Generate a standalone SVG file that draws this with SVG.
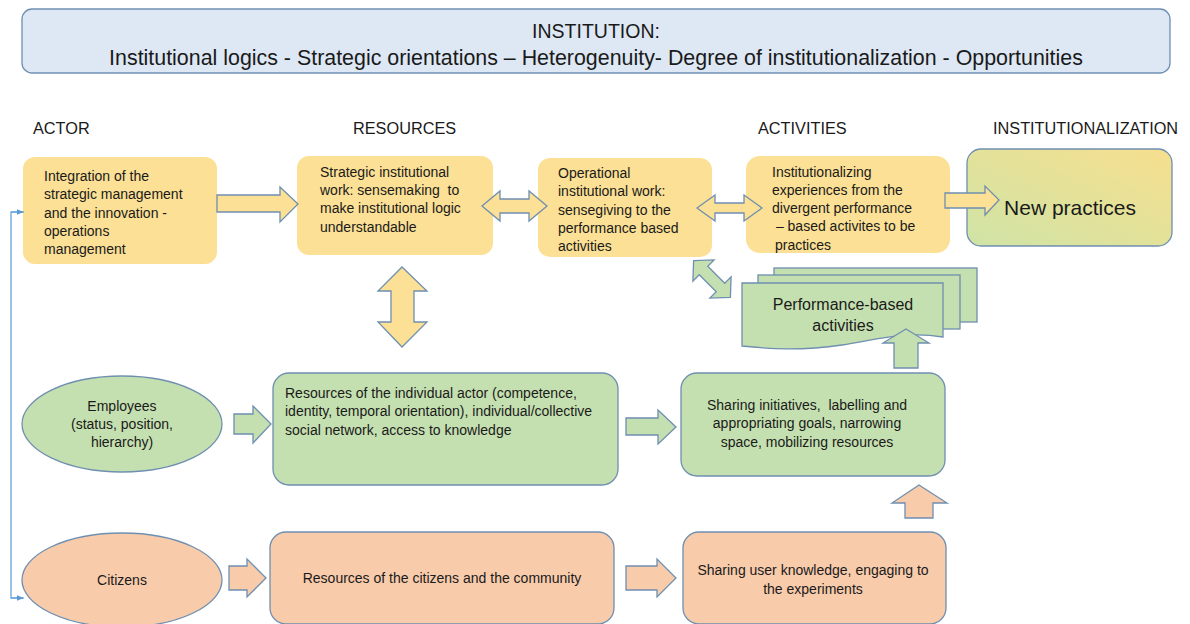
<svg xmlns="http://www.w3.org/2000/svg" width="1190" height="624" viewBox="0 0 1190 624">
<defs>
<style>
text{font-family:"Liberation Sans",Arial,sans-serif;fill:#1a1a1a;white-space:pre;}
.t{font-size:14px;}
.c{text-anchor:middle;}
.h{font-size:16.3px;}
.y{fill:#fbe095;}
.ys{fill:#fbe095;stroke:#6f8fb0;stroke-width:1.3;}
.g{fill:#c5e0b0;stroke:#6f8fb0;stroke-width:1.3;}
.s{fill:#f8cbab;stroke:#6f8fb0;stroke-width:1.3;}
.con{fill:none;stroke:#5b9bd5;stroke-width:1.2;}
</style>
<linearGradient id="np" x1="0" y1="1" x2="1" y2="0">
<stop offset="0" stop-color="#cfe4a6"/>
<stop offset="1" stop-color="#f7df8e"/>
</linearGradient>
<marker id="ah" viewBox="0 0 10 10" refX="9" refY="5" markerWidth="6" markerHeight="6" orient="auto">
<path d="M0,1 L10,5 L0,9 Z" fill="#5b9bd5"/>
</marker>
</defs>
<rect width="1190" height="624" fill="#ffffff"/>

<g id="institution">
<rect x="22" y="9" width="1148" height="64" rx="10" fill="#dde8f4" stroke="#6f8fb0" stroke-width="1.3"/>
<text x="596" y="38" class="c" style="font-size:19.5px">INSTITUTION:</text>
<text x="596" y="65" class="c" style="font-size:21.4px">Institutional logics - Strategic orientations – Heterogenuity- Degree of institutionalization - Opportunities</text>
</g>

<g id="headers">
<text x="33" y="134" class="h">ACTOR</text>
<text x="353" y="134" class="h">RESOURCES</text>
<text x="758" y="134" class="h">ACTIVITIES</text>
<text x="993" y="134" class="h">INSTITUTIONALIZATION</text>
</g>

<g id="integration">
<rect x="23" y="157" width="194" height="107" rx="12" class="y"/>
<text class="t" x="44" y="181">Integration of the</text>
<text class="t" x="44" y="199">strategic management</text>
<text class="t" x="44" y="218">and the innovation -</text>
<text class="t" x="44" y="236">operations</text>
<text class="t" x="44" y="254">management</text>
</g>

<g id="strategic">
<rect x="297" y="156" width="196" height="99" rx="12" class="y"/>
<text class="t" x="320" y="177">Strategic institutional</text>
<text class="t" x="320" y="195">work: sensemaking  to</text>
<text class="t" x="320" y="213">make institutional logic</text>
<text class="t" x="320" y="232">understandable</text>
</g>

<g id="operational">
<rect x="538" y="158" width="174" height="99" rx="12" class="y"/>
<text class="t" x="558" y="178">Operational</text>
<text class="t" x="558" y="196">institutional work:</text>
<text class="t" x="558" y="215">sensegiving to the</text>
<text class="t" x="558" y="233">performance based</text>
<text class="t" x="558" y="251">activities</text>
</g>

<g id="institutionalizing">
<rect x="746" y="156" width="204" height="97" rx="14" class="y"/>
<text class="t" x="772" y="177">Institutionalizing</text>
<text class="t" x="772" y="195">experiences from the</text>
<text class="t" x="772" y="213">divergent performance</text>
<text class="t" x="772" y="231"> – based activites to be</text>
<text class="t" x="775" y="250">practices</text>
</g>

<g id="new-practices">
<rect x="967" y="149" width="205" height="97" rx="14" fill="url(#np)" stroke="#6f8fb0" stroke-width="1.3"/>
<text x="1070" y="215" class="c" style="font-size:21px">New practices</text>
</g>

<g id="performance">
<rect x="774" y="268" width="203" height="54" class="g"/>
<rect x="758" y="275" width="202" height="54" class="g"/>
<path class="g" d="M742,283 H943 V337 C905,331 880,339 842,345 C800,351 770,349 742,346 Z"/>
<text x="843" y="310" class="c" style="font-size:16px">Performance-based</text>
<text x="843" y="331" class="c" style="font-size:16px">activities</text>
</g>

<g id="employees">
<ellipse cx="122" cy="424" rx="100" ry="48" class="g"/>
<text class="t c" x="122" y="411">Employees</text>
<text class="t c" x="122" y="429">(status, position,</text>
<text class="t c" x="122" y="447">hierarchy)</text>
</g>

<g id="resources-individual">
<rect x="273" y="373" width="345" height="112" rx="16" class="g"/>
<text class="t" x="285" y="398">Resources of the individual actor (competence,</text>
<text class="t" x="285" y="416">identity, temporal orientation), individual/collective</text>
<text class="t" x="285" y="435">social network, access to knowledge</text>
</g>

<g id="sharing-initiatives">
<rect x="681" y="373" width="264" height="103" rx="16" class="g"/>
<text class="t c" x="807" y="410">Sharing initiatives,  labelling and</text>
<text class="t c" x="807" y="428">appropriating goals, narrowing</text>
<text class="t c" x="807" y="447">space, mobilizing resources</text>
</g>

<g id="citizens">
<ellipse cx="122" cy="580" rx="100" ry="47" class="s"/>
<text class="t c" x="122" y="585">Citizens</text>
</g>

<g id="resources-citizens">
<rect x="270" y="532" width="344" height="92" rx="16" class="s"/>
<text class="t c" x="442" y="583">Resources of the citizens and the community</text>
</g>

<g id="sharing-user">
<rect x="683" y="532" width="263" height="92" rx="16" class="s"/>
<text class="t c" x="813" y="575">Sharing user knowledge, engaging to</text>
<text class="t c" x="813" y="594">the experiments</text>
</g>

<g id="connectors">
<polyline class="con" points="24,212 11,212 11,598 24,598"/>
<line x1="11" y1="212" x2="23" y2="212" class="con" marker-end="url(#ah)"/>
<line x1="11" y1="598" x2="23" y2="598" class="con" marker-end="url(#ah)"/>
<polygon class="ys" points="217,195 280,195 280,187 298,204 280,222 280,212 217,212"/>
<polygon class="ys" points="482,206 500,191 500,199 529,199 529,191 547,206 529,221 529,213 500,213 500,221"/>
<polygon class="ys" points="697,208 715,195 715,203 744,203 744,195 762,208 744,221 744,213 715,213 715,221"/>
<polygon class="ys" points="945,193 985,193 985,186 999,200 985,215 985,208 945,208"/>
<polygon class="ys" points="402,267 427,291 414,291 414,322 427,322 402,347 378,322 391,322 391,291 378,291"/>
<polygon class="g" transform="translate(712,279) rotate(45)" points="-26,0 -12,-15 -12,-6 12,-6 12,-15 26,0 12,15 12,6 -12,6 -12,15"/>
<polygon class="g" points="234,414 253,414 253,406 271,424 253,443 253,434 234,434"/>
<polygon class="g" points="626,418 658,418 658,410 676,427 658,444 658,435 626,435"/>
<polygon class="g" points="906,329 929,343 918,343 918,368 894,368 894,343 883,343"/>
<polygon class="s" points="229,566 247,566 247,559 266,578 247,597 247,590 229,590"/>
<polygon class="s" points="626,566 657,566 657,559 676,578 657,597 657,590 626,590"/>
<polygon class="s" points="919,485 947,503 933,503 933,518 905,518 905,503 892,503"/>
</g>
</svg>
